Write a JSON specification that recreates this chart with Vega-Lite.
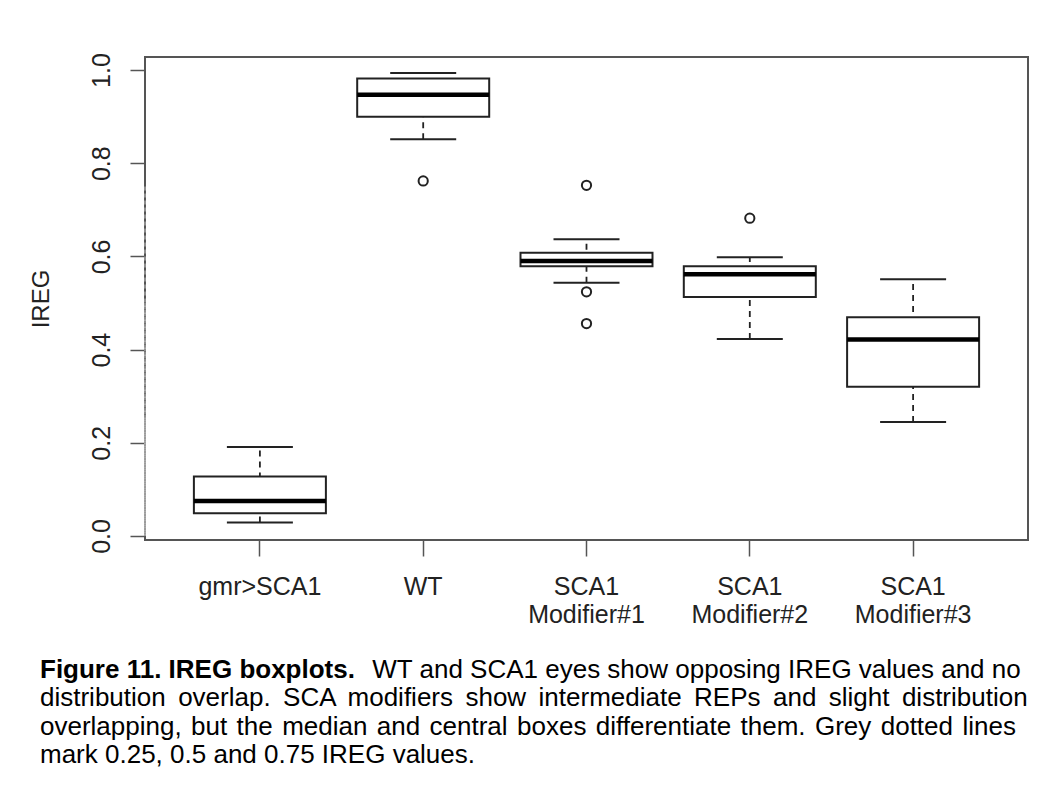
{
  "$schema": "https://vega.github.io/schema/vega-lite/v6.json",
  "width": 883,
  "height": 483,
  "autosize": {"type": "none"},
  "padding": {"left": 145, "top": 57, "right": 24, "bottom": 249},
  "background": "white",
  "config": {
    "font": "Liberation Sans",
    "view": {"stroke": "#555555", "strokeWidth": 2}
  },
  "title": {
    "text": "Figure 11. IREG boxplots.",
    "subtitle": [
      "\u200b\u00a0\u00a0\u00a0\u00a0\u00a0\u00a0\u00a0\u00a0\u00a0\u00a0\u00a0\u00a0\u00a0\u00a0\u00a0\u00a0\u00a0\u00a0\u00a0\u00a0\u00a0\u00a0\u00a0\u00a0\u00a0\u00a0\u00a0\u00a0\u00a0\u00a0\u00a0\u00a0\u00a0\u00a0\u00a0\u00a0\u00a0\u00a0\u00a0\u00a0\u00a0\u00a0\u00a0\u00a0\u00a0\u00a0WT and SCA1 eyes show opposing IREG values and no",
      "distribution \u2009overlap. \u2009SCA \u2009modifiers \u2009show \u2009intermediate \u2009REPs \u2009and \u2009slight \u2009distribution",
      "overlapping, \u200abut \u200athe \u200amedian \u200aand \u200acentral \u200aboxes \u200adifferentiate \u200athem. \u200aGrey \u200adotted \u200alines",
      "mark 0.25, 0.5 and 0.75 IREG values."
    ],
    "orient": "bottom",
    "anchor": "start",
    "frame": "group",
    "dx": -105,
    "offset": 30,
    "font": "Liberation Sans",
    "fontSize": 26,
    "fontWeight": "bold",
    "color": "black",
    "subtitleFont": "Liberation Sans",
    "subtitleFontSize": 26,
    "subtitleFontWeight": "normal",
    "subtitleColor": "black",
    "subtitleLineHeight": 28.3,
    "subtitlePadding": -26
  },
  "datasets": {
    "boxes": [
      {"group": "gmr>SCA1", "lo": 0.0287, "q1": 0.0487, "med": 0.0753, "q3": 0.1276, "hi": 0.191},
      {"group": "WT", "lo": 0.8516, "q1": 0.900, "med": 0.947, "q3": 0.982, "hi": 0.9935},
      {"group": "SCA1 Modifier#1", "lo": 0.5434, "q1": 0.579, "med": 0.590, "q3": 0.608, "hi": 0.6366},
      {"group": "SCA1 Modifier#2", "lo": 0.423, "q1": 0.513, "med": 0.562, "q3": 0.579, "hi": 0.598},
      {"group": "SCA1 Modifier#3", "lo": 0.2445, "q1": 0.3204, "med": 0.4215, "q3": 0.4695, "hi": 0.551}
    ],
    "outliers": [
      {"group": "WT", "IREG": 0.762},
      {"group": "SCA1 Modifier#1", "IREG": 0.7527},
      {"group": "SCA1 Modifier#1", "IREG": 0.524},
      {"group": "SCA1 Modifier#1", "IREG": 0.456},
      {"group": "SCA1 Modifier#2", "IREG": 0.682}
    ],
    "refs": [
      {"ref": 0.25},
      {"ref": 0.5},
      {"ref": 0.75}
    ]
  },
  "layer": [
    {
      "data": {"name": "refs"},
      "mark": {"type": "rule", "color": "#c8c8c8", "strokeWidth": 1, "strokeDash": [4, 3]},
      "encoding": {
        "y": {"field": "ref", "type": "quantitative", "scale": {"domain": [-0.0086, 1.028], "nice": false, "zero": false}}
      }
    },
    {
      "data": {"name": "boxes"},
      "mark": {"type": "rule", "color": "#222222", "strokeWidth": 1.8, "strokeDash": [6, 5]},
      "encoding": {
        "x": {"field": "group", "type": "nominal"},
        "y": {"field": "lo", "type": "quantitative"},
        "y2": {"field": "hi"}
      }
    },
    {
      "data": {"name": "boxes"},
      "mark": {"type": "bar", "fill": "white", "stroke": "#222222", "strokeWidth": 2},
      "encoding": {
        "x": {"field": "group", "type": "nominal"},
        "y": {"field": "q1", "type": "quantitative"},
        "y2": {"field": "q3"}
      }
    },
    {
      "data": {"name": "boxes"},
      "mark": {"type": "tick", "color": "black", "size": 132, "thickness": 4.5, "opacity": 1},
      "encoding": {
        "x": {"field": "group", "type": "nominal"},
        "y": {"field": "med", "type": "quantitative"}
      }
    },
    {
      "data": {"name": "boxes"},
      "mark": {"type": "tick", "color": "#222222", "size": 66, "thickness": 2, "opacity": 1},
      "encoding": {
        "x": {"field": "group", "type": "nominal"},
        "y": {"field": "lo", "type": "quantitative"}
      }
    },
    {
      "data": {"name": "boxes"},
      "mark": {"type": "tick", "color": "#222222", "size": 66, "thickness": 2, "opacity": 1},
      "encoding": {
        "x": {"field": "group", "type": "nominal"},
        "y": {"field": "hi", "type": "quantitative"}
      }
    },
    {
      "data": {"name": "outliers"},
      "mark": {"type": "point", "shape": "circle", "filled": false, "color": "#222222", "strokeWidth": 2, "size": 85, "opacity": 1},
      "encoding": {
        "x": {"field": "group", "type": "nominal"},
        "y": {"field": "IREG", "type": "quantitative"}
      }
    }
  ],
  "resolve": {"scale": {"x": "shared", "y": "shared"}},
  "encoding": {
    "x": {
      "field": "group",
      "type": "nominal",
      "sort": ["gmr>SCA1", "WT", "SCA1 Modifier#1", "SCA1 Modifier#2", "SCA1 Modifier#3"],
      "scale": {"type": "band", "domain": ["gmr>SCA1", "WT", "SCA1 Modifier#1", "SCA1 Modifier#2", "SCA1 Modifier#3"], "paddingInner": 0.1917, "paddingOuter": 0.2994},
      "axis": {
        "title": null,
        "domain": false,
        "grid": false,
        "labelAngle": 0,
        "labelExpr": "split(datum.label, ' ')",
        "labelFontSize": 25,
        "labelColor": "#222222",
        "labelFont": "Liberation Sans",
        "labelLineHeight": 28,
        "labelPadding": 18,
        "labelBaseline": "top",
        "tickSize": 16,
        "tickColor": "#555555",
        "tickWidth": 1.5
      }
    },
    "y": {
      "type": "quantitative",
      "scale": {"domain": [-0.0086, 1.028], "nice": false, "zero": false},
      "axis": {
        "title": "IREG",
        "titleFontSize": 24,
        "titleFontWeight": "normal",
        "titleColor": "#222222",
        "titleFont": "Liberation Sans",
        "titlePadding": 36,
        "values": [0, 0.2, 0.4, 0.6, 0.8, 1.0],
        "format": ".1f",
        "domain": false,
        "grid": false,
        "labelAngle": -90,
        "labelAlign": "center",
        "labelBaseline": "middle",
        "labelFontSize": 25,
        "labelColor": "#222222",
        "labelFont": "Liberation Sans",
        "labelPadding": 29,
        "tickSize": 15,
        "tickColor": "#555555",
        "tickWidth": 1.5
      }
    }
  }
}
